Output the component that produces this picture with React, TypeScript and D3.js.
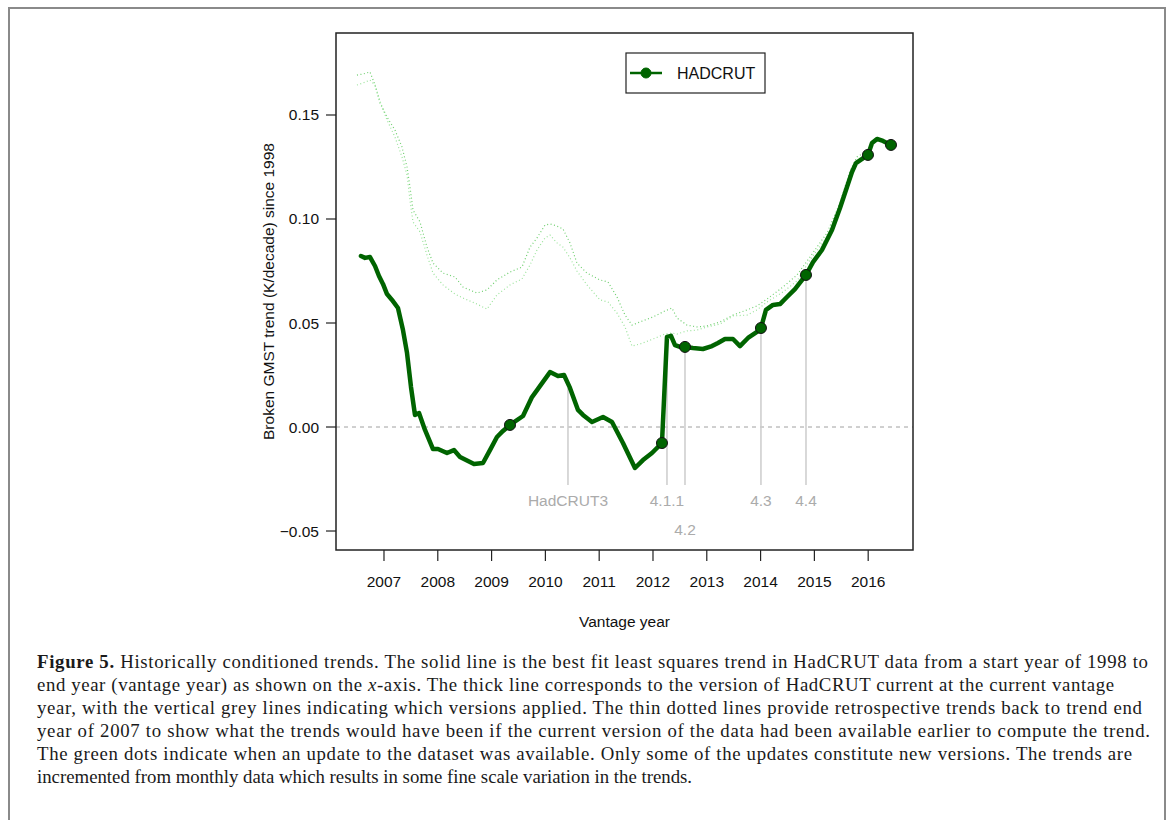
import React from "react";
import * as d3 from "d3";

// ---- Data ----
const thickYears = [2006.572, 2006.647, 2006.74, 2006.833, 2006.907, 2006.981, 2007.056, 2007.149, 2007.26, 2007.353, 2007.428, 2007.502, 2007.576, 2007.651, 2007.762, 2007.911, 2008.004, 2008.171, 2008.301, 2008.413, 2008.673, 2008.84, 2008.97, 2009.1, 2009.212, 2009.342, 2009.584, 2009.751, 2009.862, 2010.086, 2010.234, 2010.346, 2010.457, 2010.606, 2010.699, 2010.866, 2011.071, 2011.238, 2011.442, 2011.665, 2011.814, 2011.981, 2012.167, 2012.26, 2012.335, 2012.409, 2012.502, 2012.595, 2012.743, 2012.929, 2013.097, 2013.208, 2013.338, 2013.487, 2013.617, 2013.766, 2013.933, 2014.007, 2014.1, 2014.23, 2014.361, 2014.491, 2014.639, 2014.844, 2014.974, 2015.141, 2015.327, 2015.476, 2015.606, 2015.699, 2015.773, 2015.996, 2016.071, 2016.164, 2016.275, 2016.424];
const thickValues = [0.0822, 0.0813, 0.0817, 0.0774, 0.0726, 0.0688, 0.0639, 0.0611, 0.0572, 0.0466, 0.0356, 0.0192, 0.0058, 0.0067, -0.0014, -0.0106, -0.0106, -0.0125, -0.0111, -0.0144, -0.0178, -0.0173, -0.0111, -0.0048, -0.0019, 0.001, 0.0053, 0.0144, 0.0183, 0.0264, 0.0245, 0.025, 0.0188, 0.0082, 0.0058, 0.0024, 0.0048, 0.0024, -0.0077, -0.0197, -0.0159, -0.0125, -0.0077, 0.0433, 0.0438, 0.0394, 0.0385, 0.0385, 0.038, 0.0375, 0.0389, 0.0404, 0.0423, 0.0423, 0.0389, 0.0428, 0.0457, 0.0476, 0.0563, 0.0587, 0.0591, 0.0625, 0.0663, 0.0731, 0.0793, 0.0851, 0.0947, 0.1053, 0.1154, 0.1226, 0.1269, 0.1308, 0.1365, 0.1385, 0.1375, 0.1356];

const dotYears = [2009.342, 2012.167, 2012.595, 2014.007, 2014.844, 2015.996, 2016.424];
const dotValues = [0.001, -0.0077, 0.0385, 0.0476, 0.0731, 0.1308, 0.1356];

const dottedYears = [2006.498, 2006.61, 2006.74, 2006.833, 2006.926, 2007.056, 2007.204, 2007.335, 2007.428, 2007.483, 2007.539, 2007.669, 2007.799, 2007.911, 2008.097, 2008.32, 2008.468, 2008.729, 2008.914, 2009.1, 2009.342, 2009.565, 2009.714, 2009.844, 2009.993, 2010.086, 2010.216, 2010.327, 2010.457, 2010.587, 2010.773, 2011.015, 2011.164, 2011.331, 2011.48, 2011.61, 2011.758, 2012.0, 2012.223, 2012.353, 2012.446, 2012.632, 2012.818, 2013.004, 2013.245, 2013.487, 2013.747, 2013.933, 2014.119, 2014.416, 2014.677, 2014.918, 2015.234, 2015.476, 2015.662, 2015.792, 2015.978];
const dottedUpper = [0.1692, 0.1697, 0.1707, 0.1644, 0.1558, 0.149, 0.1428, 0.1346, 0.125, 0.1154, 0.1043, 0.0986, 0.0865, 0.0788, 0.074, 0.0721, 0.0673, 0.0644, 0.0659, 0.0707, 0.0745, 0.0769, 0.0865, 0.0909, 0.0971, 0.0976, 0.0966, 0.0952, 0.0885, 0.0788, 0.074, 0.0707, 0.0697, 0.0625, 0.0538, 0.049, 0.0505, 0.0529, 0.0558, 0.0572, 0.0524, 0.049, 0.0481, 0.0486, 0.0505, 0.0538, 0.0563, 0.0582, 0.0615, 0.0673, 0.0731, 0.0817, 0.0933, 0.1077, 0.1231, 0.1298, 0.1327];
const dottedLower = [0.1644, 0.1654, 0.1668, 0.1644, 0.1567, 0.1476, 0.1394, 0.1298, 0.1212, 0.1091, 0.0986, 0.0938, 0.0827, 0.074, 0.0683, 0.0639, 0.062, 0.0591, 0.0567, 0.0635, 0.0683, 0.0712, 0.0779, 0.0851, 0.0909, 0.0923, 0.0885, 0.0865, 0.0813, 0.075, 0.0683, 0.0611, 0.0601, 0.0548, 0.0481, 0.0389, 0.0399, 0.0423, 0.0447, 0.0452, 0.0447, 0.0462, 0.0466, 0.0481, 0.0495, 0.0534, 0.0538, 0.0563, 0.0601, 0.0649, 0.0702, 0.0803, 0.0913, 0.1063, 0.1216, 0.1284, 0.1317];

const versionLabels = ["HadCRUT3", "4.1.1", "4.2", "4.3", "4.4"];
const versionYears = [2010.42, 2012.26, 2012.595, 2014.007, 2014.844];
const versionTops = [0.0188, 0.0433, 0.0385, 0.0476, 0.0731];
const versionLabelValues = [-0.0351, -0.0351, -0.0495, -0.0351, -0.0351];
const versionLineBottom = -0.0279;

const xTicks = [2007, 2008, 2009, 2010, 2011, 2012, 2013, 2014, 2015, 2016];
const yTicks = [-0.05, 0, 0.05, 0.1, 0.15];
const yTickLabels = ["\u22120.05", "0.00", "0.05", "0.10", "0.15"];

const captionLines = [
  "end year (vantage year) as shown on the ",
  "year, with the vertical grey lines indicating which versions applied. The thin dotted lines provide retrospective trends back to trend end",
  "year of 2007 to show what the trends would have been if the current version of the data had been available earlier to compute the trend.",
  "The green dots indicate when an update to the dataset was available. Only some of the updates constitute new versions. The trends are",
  "incremented from monthly data which results in some fine scale variation in the trends.",
];

const PL = 336, PT = 33, PR = 913, PB = 550;
const sans = "'Liberation Sans', Arial, sans-serif";
const serif = "'Liberation Serif', 'Times New Roman', serif";

export default function App() {
  const x = d3.scaleLinear().domain([2006.108, 2016.833]).range([PL, PR]);
  const y = d3.scaleLinear().domain([-0.05913, 0.18942]).range([PB, PT]);

  const thick = thickYears.map((t, i) => [t, thickValues[i]] as [number, number]);
  const up = dottedYears.map((t, i) => [t, dottedUpper[i]] as [number, number]);
  const lo = dottedYears.map((t, i) => [t, dottedLower[i]] as [number, number]);
  const line = d3.line<[number, number]>().x((d) => x(d[0])).y((d) => y(d[1]));

  const capY0 = 668;
  const capDy = 23;
  const capWidths = [1105, 1113, 1095, 0];

  return (
    <svg width={1169} height={820} style={{ position: "absolute", left: 0, top: 0, background: "#fff" }}>
      <rect x={0} y={0} width={1169} height={820} fill="#fff" />
      {/* outer border */}
      <path d="M9,830 L9,8 L1165,8 L1165,830" fill="none" stroke="#8a8a8a" strokeWidth={2} />

      {/* zero line */}
      <line x1={PL} x2={PR} y1={y(0)} y2={y(0)} stroke="#a0a0a0" strokeWidth={1} strokeDasharray="4,4" />

      {/* dotted retrospective trends */}
      <path d={line(up) || ""} fill="none" stroke="#6fcf6f" strokeWidth={1.2} strokeDasharray="1,2.5" />
      <path d={line(lo) || ""} fill="none" stroke="#9be39b" strokeWidth={1.2} strokeDasharray="1,2.5" />

      {/* version lines */}
      {versionYears.map((v, i) => (
        <line key={"vl" + i} x1={x(v)} x2={x(v)} y1={y(versionTops[i])} y2={y(versionLineBottom)} stroke="#cccccc" strokeWidth={1.5} />
      ))}
      {versionYears.map((v, i) => (
        <text key={"vt" + i} x={x(v)} y={y(versionLabelValues[i])} textAnchor="middle" dominantBaseline="central" fontFamily={sans} fontSize={15.5} fill="#ababab">
          {versionLabels[i]}
        </text>
      ))}

      {/* thick line */}
      <path d={line(thick) || ""} fill="none" stroke="#006400" strokeWidth={4.5} strokeLinejoin="round" strokeLinecap="round" />
      {dotYears.map((t, i) => (
        <circle key={"d" + i} cx={x(t)} cy={y(dotValues[i])} r={5.5} fill="#006400" stroke="#111" strokeWidth={1} />
      ))}

      {/* frame */}
      <rect x={PL} y={PT} width={PR - PL} height={PB - PT} fill="none" stroke="#222" strokeWidth={1.5} />

      {/* y axis */}
      {yTicks.map((v, i) => (
        <g key={"y" + i}>
          <line x1={PL - 10} x2={PL} y1={y(v)} y2={y(v)} stroke="#222" strokeWidth={1.2} />
          <text x={PL - 17} y={y(v)} textAnchor="end" dominantBaseline="central" fontFamily={sans} fontSize={15.5} fill="#111">
            {yTickLabels[i]}
          </text>
        </g>
      ))}
      <text transform={`translate(268,${(PT + PB) / 2}) rotate(-90)`} textAnchor="middle" dominantBaseline="central" fontFamily={sans} fontSize={15.5} fill="#111">
        Broken GMST trend (K/decade) since 1998
      </text>

      {/* x axis */}
      {xTicks.map((v) => (
        <g key={"x" + v}>
          <line x1={x(v)} x2={x(v)} y1={PB} y2={PB + 11} stroke="#222" strokeWidth={1.2} />
          <text x={x(v)} y={PB + 31} textAnchor="middle" dominantBaseline="central" fontFamily={sans} fontSize={15.5} fill="#111">
            {v}
          </text>
        </g>
      ))}
      <text x={(PL + PR) / 2} y={621} textAnchor="middle" dominantBaseline="central" fontFamily={sans} fontSize={15.5} fill="#111">
        Vantage year
      </text>

      {/* legend */}
      <rect x={626} y={53} width={139} height={40} fill="#fff" stroke="#222" strokeWidth={1.2} />
      <line x1={630} x2={662} y1={73} y2={73} stroke="#006400" strokeWidth={2.5} />
      <circle cx={646} cy={73} r={5} fill="#006400" stroke="#006400" />
      <text x={677} y={73} dominantBaseline="central" fontFamily={sans} fontSize={16} fill="#111">
        HADCRUT
      </text>

      {/* caption */}
      <g fontFamily={serif} fontSize={18.8} fill="#1a1a1a">
        <text x={37} y={capY0} textLength={1111} lengthAdjust="spacing">
          <tspan fontWeight="bold">Figure 5.</tspan> Historically conditioned trends. The solid line is the best fit least squares trend in HadCRUT data from a start year of 1998 to
        </text>
        <text x={37} y={capY0 + capDy} textLength={1077} lengthAdjust="spacing">
          {captionLines[0]}
          <tspan fontStyle="italic">x</tspan>-axis. The thick line corresponds to the version of HadCRUT current at the current vantage
        </text>
        {captionLines.slice(1).map((s, i) =>
          capWidths[i] > 0 ? (
            <text key={"c" + i} x={37} y={capY0 + capDy * (i + 2)} textLength={capWidths[i]} lengthAdjust="spacing">
              {s}
            </text>
          ) : (
            <text key={"c" + i} x={37} y={capY0 + capDy * (i + 2)}>
              {s}
            </text>
          )
        )}
      </g>
    </svg>
  );
}
